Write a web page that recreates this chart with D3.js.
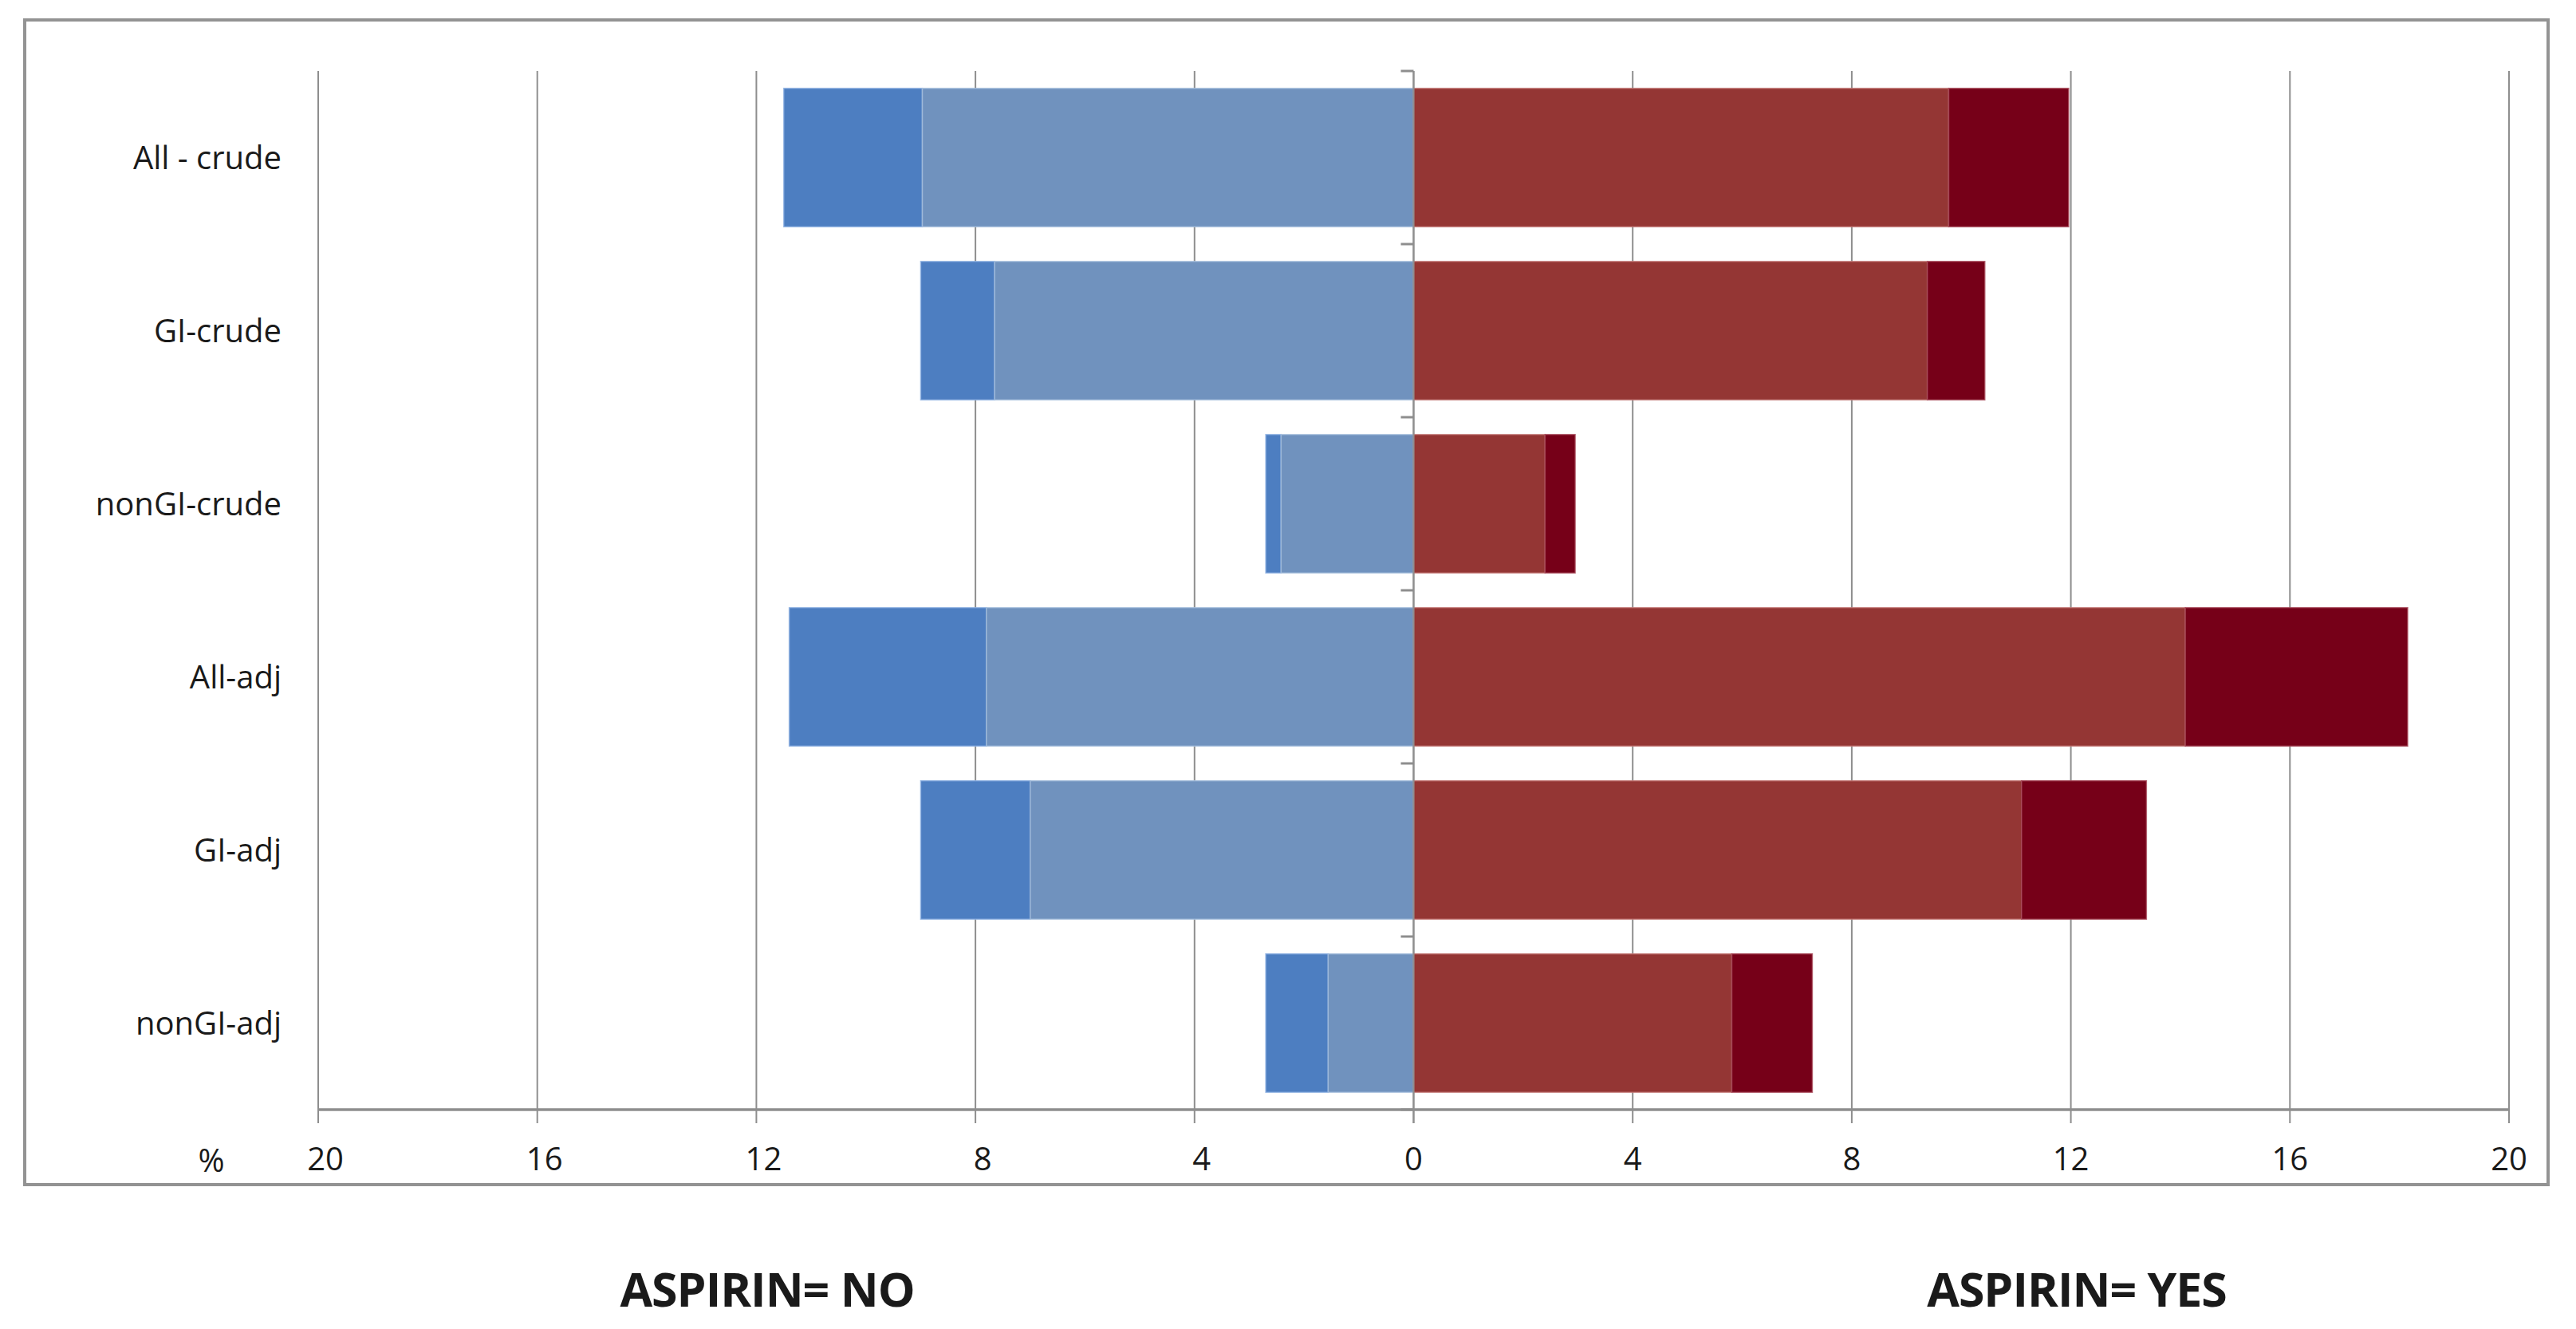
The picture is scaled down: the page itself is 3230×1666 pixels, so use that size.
<!DOCTYPE html>
<html>
<head>
<meta charset="utf-8">
<script src="https://cdn.jsdelivr.net/npm/d3@7"></script>
<style>
  html, body { margin: 0; padding: 0; background: #fff; }
  svg { display: block; }
  text { font-family: "Open Sans", "DejaVu Sans", sans-serif; fill: #1a1a1a; }
</style>
</head>
<body>
<script>
// ---- data ----
const categories = ["All - crude", "GI-crude", "nonGI-crude", "All-adj", "GI-adj", "nonGI-adj"];
const noInner  = [8.97, 7.65, 2.42, 7.8, 7.0, 1.56];   // ASPIRIN = NO, light segment
const noOuter  = [11.5, 9.0, 2.7, 11.4, 9.0, 2.7];     // ASPIRIN = NO, total
const yesInner = [9.77, 9.38, 2.4, 14.09, 11.1, 5.81]; // ASPIRIN = YES, light segment
const yesOuter = [11.96, 10.43, 2.95, 18.15, 13.38, 7.28]; // ASPIRIN = YES, total
const tickValues = [-20, -16, -12, -8, -4, 0, 4, 8, 12, 16, 20];
const tickLabels = ["20", "16", "12", "8", "4", "0", "4", "8", "12", "16", "20"];
const titles = ["ASPIRIN= NO", "ASPIRIN= YES"];
const unitLabel = "%";

// ---- layout ----
const W = 3230, H = 1666;
const svg = d3.select("body").append("svg").attr("width", W).attr("height", H);
svg.append("rect").attr("width", W).attr("height", H).attr("fill", "#fff");

const x = d3.scaleLinear().domain([-20, 20]).range([399, 3146]);
const y = d3.scaleBand().domain(categories).range([89, 1391]).paddingInner(0.2).paddingOuter(0.1);

const gridColor = "#8e8e8e";

// outer frame
svg.append("rect").attr("x", 31).attr("y", 25).attr("width", 3164).attr("height", 1460)
  .attr("fill", "none").attr("stroke", "#939393").attr("stroke-width", 4);

// vertical gridlines (extending as ticks below axis)
svg.append("g").selectAll("line").data(tickValues).join("line")
  .attr("x1", d => x(d)).attr("x2", d => x(d))
  .attr("y1", 89).attr("y2", 1408)
  .attr("stroke", gridColor).attr("stroke-width", 2);

// category tick marks on zero axis
svg.append("g").selectAll("line").data(d3.range(categories.length + 1)).join("line")
  .attr("x1", x(0) - 16).attr("x2", x(0))
  .attr("y1", i => y.range()[0] + i * (y.range()[1] - y.range()[0]) / categories.length)
  .attr("y2", i => y.range()[0] + i * (y.range()[1] - y.range()[0]) / categories.length)
  .attr("stroke", gridColor).attr("stroke-width", 3);

// bars
const rows = categories.map((c, i) => ({c, noIn: noInner[i], noOut: noOuter[i], yesIn: yesInner[i], yesOut: yesOuter[i]}));
const segs = [];
rows.forEach(r => {
  segs.push({c: r.c, a: -r.noOut, b: -r.noIn, fill: "#4d7ec1", stroke: "#8fb2e2"});
  segs.push({c: r.c, a: -r.noIn, b: 0, fill: "#7092be", stroke: "#a6bfdd"});
  segs.push({c: r.c, a: 0, b: r.yesIn, fill: "#943634", stroke: "#c47a78"});
  segs.push({c: r.c, a: r.yesIn, b: r.yesOut, fill: "#760018", stroke: "#a84a5a"});
});
svg.append("g").selectAll("rect").data(segs).join("rect")
  .attr("x", d => x(d.a)).attr("width", d => x(d.b) - x(d.a))
  .attr("y", d => y(d.c)).attr("height", y.bandwidth())
  .attr("fill", d => d.fill)
  .attr("stroke", d => d.stroke).attr("stroke-width", 1.5).attr("stroke-opacity", 0.8);

// zero line on top
svg.append("line").attr("x1", x(0)).attr("x2", x(0)).attr("y1", 89).attr("y2", 1408)
  .attr("stroke", gridColor).attr("stroke-width", 2);

// bottom axis line
svg.append("line").attr("x1", x(-20)).attr("x2", x(20)).attr("y1", 1391).attr("y2", 1391)
  .attr("stroke", gridColor).attr("stroke-width", 3.5);

// tick labels
svg.append("g").selectAll("text").data(tickValues).join("text")
  .attr("x", d => x(d) + (d < 0 ? 9 : 0)).attr("y", 1467)
  .attr("text-anchor", "middle").attr("font-size", 40)
  .text((d, i) => tickLabels[i]);

svg.append("text").attr("x", 265).attr("y", 1469).attr("text-anchor", "middle")
  .attr("font-size", 40).text(unitLabel);

// category labels
svg.append("g").selectAll("text").data(categories).join("text")
  .attr("x", 353).attr("y", d => y(d) + y.bandwidth() / 2 + 14)
  .attr("text-anchor", "end").attr("font-size", 40)
  .text(d => d);

// titles
svg.append("g").selectAll("text").data(titles).join("text")
  .attr("x", (d, i) => [962, 2604][i]).attr("y", 1638)
  .attr("text-anchor", "middle").attr("font-size", 59).attr("font-weight", "bold")
  .attr("letter-spacing", -1)
  .text(d => d);
</script>
</body>
</html>
